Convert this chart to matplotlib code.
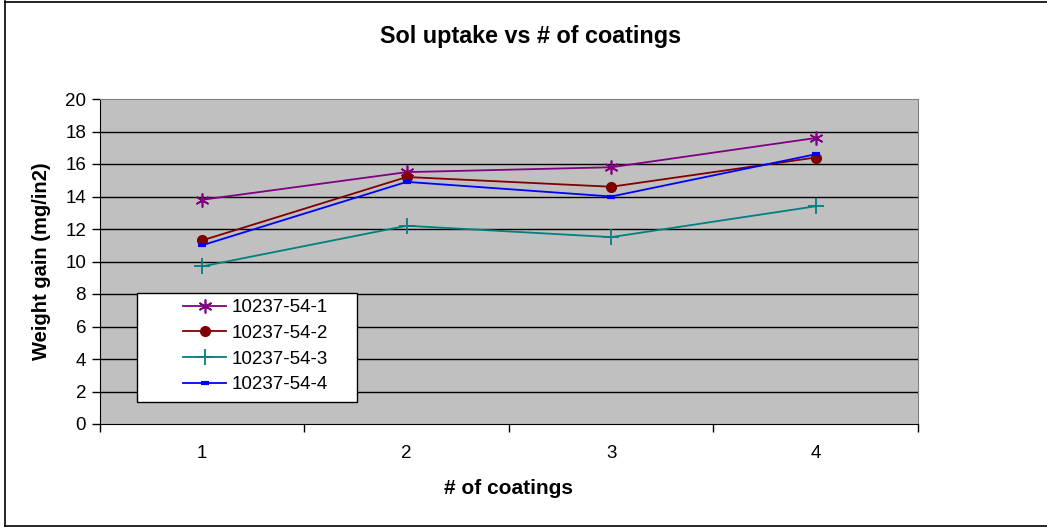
import matplotlib
matplotlib.use("Agg")
import matplotlib.pyplot as plt
from matplotlib.lines import Line2D
from matplotlib.patches import Rectangle

plt.rcParams['font.family'] = ['Liberation Sans', 'DejaVu Sans']

# coatings on the x axis, weight gain per sample
coatings = [1, 2, 3, 4]
s1 = [13.8, 15.5, 15.8, 17.6]   # 10237-54-1
s2 = [11.3, 15.2, 14.6, 16.4]   # 10237-54-2
s3 = [9.7, 12.2, 11.5, 13.4]    # 10237-54-3
s4 = [11.0, 14.9, 14.0, 16.6]   # 10237-54-4
names = ['10237-54-1', '10237-54-2', '10237-54-3', '10237-54-4']
yticks = list(range(0, 21, 2))

W, H = 1047, 527
fig = plt.figure(figsize=(W / 100, H / 100), dpi=100)
ax = fig.add_axes([100/W, 1 - 424/H, 818/W, 325/H])
ax.set_facecolor('#C0C0C0')

ax.plot(coatings, s1, color='#800080', lw=1.3, marker=(6, 2, 0), ms=10, mew=1.2, label=names[0])
ax.plot(coatings, s2, color='#800000', lw=1.3, marker='o', ms=7, label=names[1])
ax.plot(coatings, s3, color='#008080', lw=1.3, marker='+', ms=11, mew=1.3, label=names[2])
ax.plot(coatings, s4, color='#0000FF', lw=1.3, marker='_', ms=6, mew=3, label=names[3])

ax.set_xlim(0.5, 4.5)
ax.set_ylim(0, 20)
ax.set_yticks(yticks)
for y in yticks[1:-1]:
    ax.axhline(y, color='black', lw=1, zorder=1)

# category labels centred, tick marks on the boundaries
ax.set_xticks(coatings)
ax.set_xticks([0.5, 1.5, 2.5, 3.5, 4.5], minor=True)
ax.tick_params(axis='x', which='major', length=0, pad=15, labelsize=13.5)
ax.tick_params(axis='x', which='minor', length=6, width=1, direction='out')
ax.tick_params(axis='y', length=6, width=1, direction='out', labelsize=13.5, pad=4)

for side in ['top', 'right']:
    ax.spines[side].set_color('#808080')
ax.spines['left'].set_color('black')
ax.spines['bottom'].set_color('black')

ax.set_xlabel('# of coatings', fontsize=15, fontweight='bold', labelpad=12)
ax.set_ylabel('Weight gain (mg/in2)', fontsize=14.5, fontweight='bold', labelpad=10)
fig.text(531/W, 1 - 37/H, 'Sol uptake vs # of coatings', fontsize=16.8,
         fontweight='bold', ha='center', va='center')

# legend box
ax.add_patch(Rectangle((37/818, 22/325), 220/818, 109/325, transform=ax.transAxes,
                       facecolor='white', edgecolor='black', lw=1, zorder=5))
leg = ax.legend(loc='upper left', bbox_to_anchor=(83/818, 125/325),
                fontsize=13.5, frameon=False, handlelength=2.3,
                handletextpad=0.3, borderpad=0, labelspacing=0.46,
                borderaxespad=0)
leg.set_zorder(6)

# chart border
for xs, ys in [([5, 5], [1, 526]), ([5, W], [1.5, 1.5]), ([5, W], [525.5, 525.5])]:
    fig.add_artist(Line2D([x / W for x in xs], [1 - y / H for y in ys],
                          color='black', lw=1.2, transform=fig.transFigure))

fig.savefig('out.png', dpi=100)
